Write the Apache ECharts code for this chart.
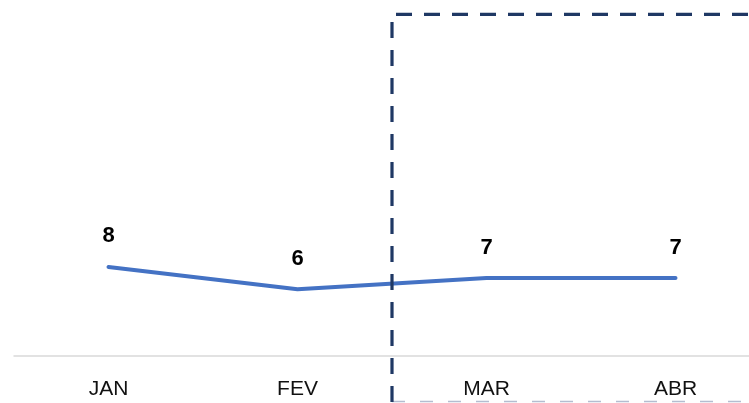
<!DOCTYPE html>
<html>
<head>
<meta charset="utf-8">
<script src="https://cdn.jsdelivr.net/npm/echarts@6/dist/echarts.min.js"></script>
<style>html,body{margin:0;padding:0;background:#fff;}#c{width:749px;height:403px;}</style>
</head>
<body>
<div id="c"></div>
<script>
const categories = ['JAN', 'FEV', 'MAR', 'ABR'];
const values = [8, 6, 7, 7];

const chart = echarts.init(document.getElementById('c'), null, {renderer: 'canvas'});
chart.setOption({
  animation: false,
  backgroundColor: '#ffffff',
  grid: {left: 14, width: 756, top: 22, bottom: 47, outerBoundsMode: 'none', containLabel: false},
  xAxis: {
    type: 'category',
    data: categories,
    boundaryGap: true,
    axisLine: {show: true, lineStyle: {color: '#d9d9d9', width: 1.5}},
    axisTick: {show: false},
    axisLabel: {color: '#111', fontSize: 21, fontFamily: 'Liberation Sans', margin: 23}
  },
  yAxis: {
    type: 'value', min: 0, max: 30, show: false,
    splitLine: {show: false}
  },
  series: [{
    type: 'line',
    data: values,
    symbol: 'circle',
    symbolSize: 1,
    showSymbol: true,
    itemStyle: {color: 'rgba(0,0,0,0)'},
    lineStyle: {color: '#4472C4', width: 4, cap: 'round'},
    label: {show: true, position: 'top', distance: 19, fontWeight: 'bold', fontSize: 22, color: '#000', fontFamily: 'Liberation Sans'}
  }],
  graphic: [
    {type: 'line', z: 100, shape: {x1: 392, y1: 401.5, x2: 760, y2: 401.5}, style: {stroke: '#b4bdd0', lineWidth: 1.5, lineDash: [13, 15]}},
    {type: 'line', z: 100, shape: {x1: 392, y1: 22, x2: 392, y2: 410}, style: {stroke: '#1F3864', lineWidth: 3.2, lineDash: [16, 12]}},
    {type: 'line', z: 100, shape: {x1: 396, y1: 14.3, x2: 760, y2: 14.3}, style: {stroke: '#1F3864', lineWidth: 3.2, lineDash: [16, 12]}}
  ]
});
</script>
</body>
</html>
